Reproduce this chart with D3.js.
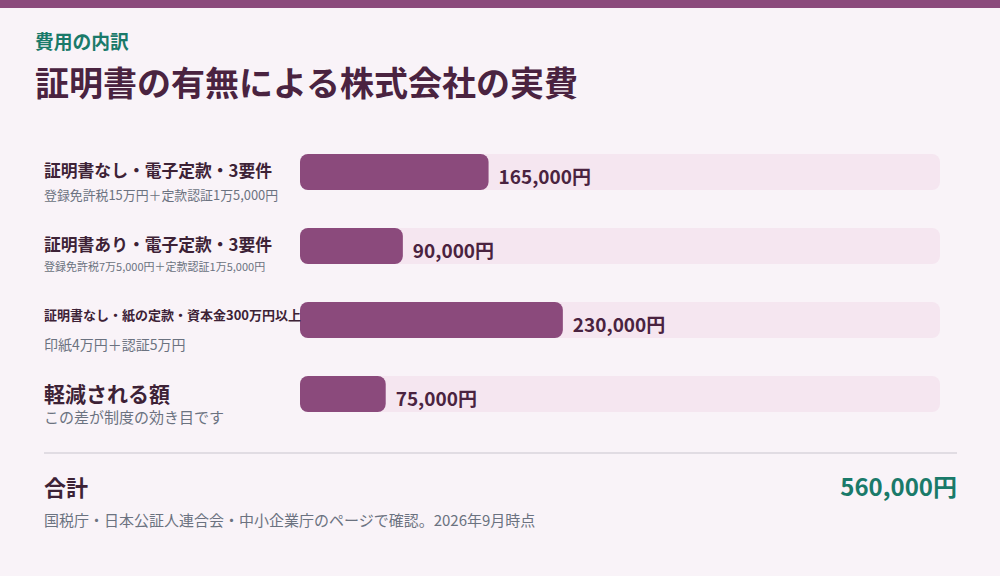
<!DOCTYPE html><html><head><meta charset="utf-8"><script src="https://cdn.jsdelivr.net/npm/d3@7"></script>
<style>body{margin:0;background:#f9f3f8}svg{display:block}text{font-family:"Noto Sans CJK JP","Noto Sans",sans-serif}</style></head><body><svg id="c" width="1000" height="576"></svg>
<script>
const labels=["証明書なし・電子定款・3要件","証明書あり・電子定款・3要件","証明書なし・紙の定款・資本金300万円以上","軽減される額"];
const subs=["登録免許税15万円＋定款認証1万5,000円","登録免許税7万5,000円＋定款認証1万5,000円","印紙4万円＋認証5万円","この差が制度の効き目です"];
const values=[165000,90000,230000,75000];
const total=560000;
const titleSize=[16.8,16.8,13,21],subSize=[12.9,11,14,15],titleY=[177,251,320,402],subY=[200,271,350,423];
const svg=d3.select("#c");
svg.append("rect").attr("width",1000).attr("height",576).attr("fill","#f9f3f8");
svg.append("rect").attr("width",1000).attr("height",8).attr("fill","#8b4a7c");
svg.append("text").attr("x",35).attr("y",49).attr("font-size",18.8).attr("font-weight",700).attr("fill","#1a7a6a").text("費用の内訳");
svg.append("text").attr("x",35).attr("y",96).attr("font-size",34).attr("font-weight",700).attr("fill","#4a2340").text("証明書の有無による株式会社の実費");
const x=d3.scaleLinear().domain([0,total]).range([300,940]);
const y=d3.scaleBand().domain(d3.range(values.length)).range([154,154+74*3+36]).paddingInner(38/74).paddingOuter(0);
const g=svg.selectAll("g.row").data(values).join("g");
g.append("rect").attr("x",x(0)).attr("y",(d,i)=>y(i)).attr("width",x(total)-x(0)).attr("height",y.bandwidth()).attr("rx",8).attr("fill","#f5e6f0");
g.append("rect").attr("x",x(0)).attr("y",(d,i)=>y(i)).attr("width",d=>x(d)-x(0)).attr("height",y.bandwidth()).attr("rx",8).attr("fill","#8b4a7c");
g.append("text").attr("x",d=>x(d)+10).attr("y",(d,i)=>y(i)+30).attr("font-size",19).attr("font-weight",700).attr("fill","#4a2340").text(d=>d3.format(",")(d)+"円");
g.append("text").attr("x",44).attr("y",(d,i)=>titleY[i]).attr("font-size",(d,i)=>titleSize[i]).attr("font-weight",700).attr("fill","#3d2236").text((d,i)=>labels[i]);
g.append("text").attr("x",44).attr("y",(d,i)=>subY[i]).attr("font-size",(d,i)=>subSize[i]).attr("fill","#6b7280").text((d,i)=>subs[i]);
svg.append("line").attr("x1",44).attr("x2",957).attr("y1",453).attr("y2",453).attr("stroke","#d8d4dc").attr("stroke-width",1.5);
svg.append("text").attr("x",44).attr("y",496).attr("font-size",22).attr("font-weight",700).attr("fill","#3d2236").text("合計");
svg.append("text").attr("x",957).attr("y",496).attr("text-anchor","end").attr("font-size",24).attr("font-weight",700).attr("fill","#1a7a6a").text(d3.format(",")(total)+"円");
svg.append("text").attr("x",44).attr("y",526).attr("font-size",15).attr("fill","#6b7280").text("国税庁・日本公証人連合会・中小企業庁のページで確認。2026年9月時点");
</script></body></html>
